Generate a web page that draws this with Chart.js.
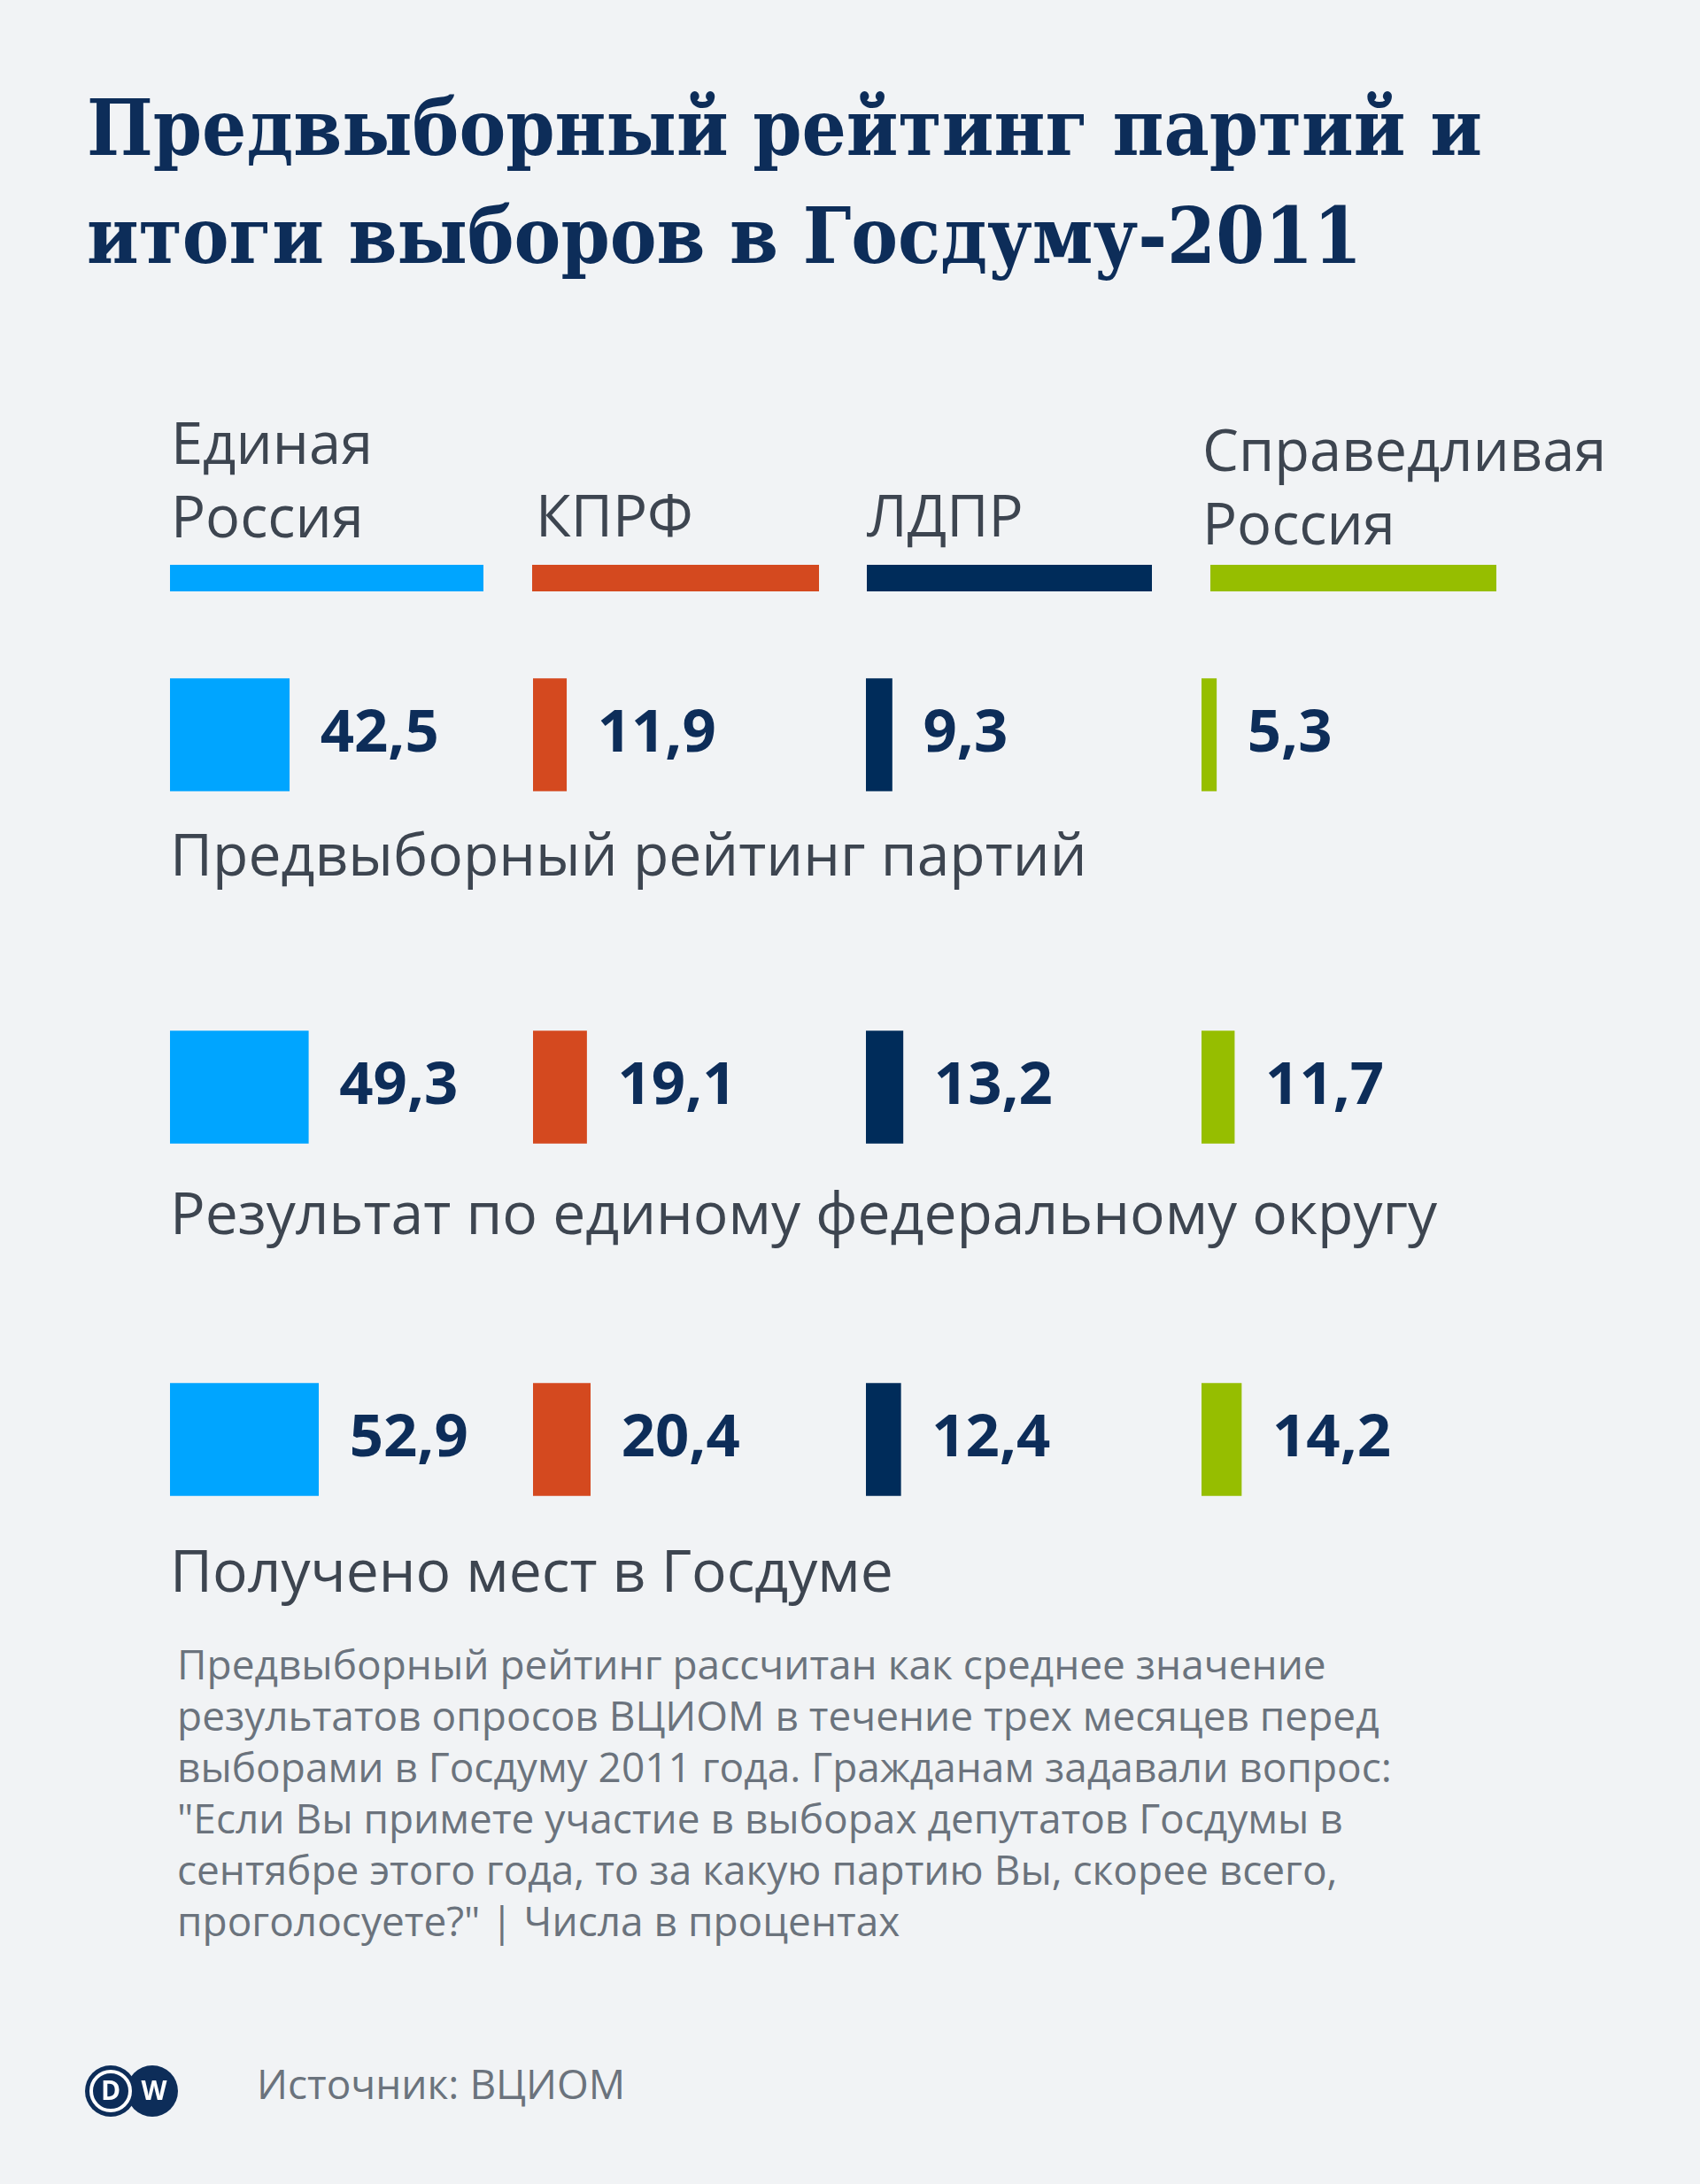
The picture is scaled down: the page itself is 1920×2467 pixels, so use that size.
<!DOCTYPE html>
<html lang="ru">
<head>
<meta charset="utf-8">
<title>Предвыборный рейтинг партий и итоги выборов в Госдуму-2011</title>
<script src="https://cdn.jsdelivr.net/npm/chart.js@4.4.1/dist/chart.umd.min.js"></script>
<style>
  html, body { margin: 0; padding: 0; }
  body { width: 1920px; height: 2467px; background: #f1f3f5; position: relative; overflow: hidden; }
  .txt { position: absolute; white-space: nowrap; margin: 0; }
  .title { font-family: "DejaVu Serif", serif; font-stretch: condensed; font-weight: bold; color: #0d2d59; }
  .sans { font-family: "Open Sans", sans-serif; }
  .swatch { position: absolute; height: 30px; }
  .col { position: absolute; top: 631px; width: 420px; height: 1194px; }
</style>
</head>
<body>
<div id="page"></div>
<canvas id="logo" width="140" height="120" style="position:absolute;left:80px;top:2300px;"></canvas>

<script>
// Data
const titleLines = ['Предвыборный рейтинг партий и', 'итоги выборов в Госдуму-2011'];
const parties = [['Единая', 'Россия'], ['КПРФ'], ['ЛДПР'], ['Справедливая', 'Россия']];
const partyColors = ['#00a5ff', '#d4491f', '#002c5a', '#96be00'];
const categories = ['Предвыборный рейтинг партий', 'Результат по единому федеральному округу', 'Получено мест в Госдуме'];
const unitedRussia = [42.5, 49.3, 52.9];
const kprf = [11.9, 19.1, 20.4];
const ldpr = [9.3, 13.2, 12.4];
const fairRussia = [5.3, 11.7, 14.2];
const footnote = [
  'Предвыборный рейтинг рассчитан как среднее значение',
  'результатов опросов ВЦИОМ в течение трех месяцев перед',
  'выборами в Госдуму 2011 года. Гражданам задавали вопрос:',
  '"Если Вы примете участие в выборах депутатов Госдумы в',
  'сентябре этого года, то за какую партию Вы, скорее всего,',
  'проголосуете?" | Числа в процентах'
];
const source = 'Источник: ВЦИОМ';

const seriesValues = [unitedRussia, kprf, ldpr, fairRussia];

// layout
const colX = [192, 602, 978, 1357];
const legendX = [193, 605, 979, 1358];
const swatchX = [[192, 546], [601, 925], [979, 1301], [1367, 1690]];
const legendBase = [[525, 608], [607], [607], [533, 617]];
const rowLabelBase = [989, 1394, 1798];
const pxPerUnit = 3.17;
const colW = 420;

const page = document.getElementById('page');

// put text so that its first baseline sits at y
function addText(lines, x, baseline, size, lineH, cls, color, asc, desc) {
  const el = document.createElement('div');
  el.className = 'txt ' + cls;
  el.style.fontSize = size + 'px';
  el.style.lineHeight = lineH + 'px';
  if (color) el.style.color = color;
  el.style.left = x + 'px';
  el.style.top = (baseline - ((lineH - (asc + desc) * size) / 2 + asc * size)) + 'px';
  el.innerHTML = lines.join('<br>');
  page.appendChild(el);
  return el;
}
const OS = [1.069, 0.293];
const DJ = [0.928, 0.236];

addText(titleLines, 98, 174, 88, 122, 'title', null, DJ[0], DJ[1]);

parties.forEach((p, i) => {
  addText(p, legendX[i], legendBase[i][0], 65, 83, 'sans', '#3d4550', OS[0], OS[1]);
  const sw = document.createElement('div');
  sw.className = 'swatch';
  sw.style.left = swatchX[i][0] + 'px';
  sw.style.top = '638px';
  sw.style.width = (swatchX[i][1] - swatchX[i][0]) + 'px';
  sw.style.background = partyColors[i];
  page.appendChild(sw);
});

categories.forEach((c, i) => {
  addText([c], 192, rowLabelBase[i], 66, 66, 'sans', '#3d4550', OS[0], OS[1]);
});

addText(footnote, 200, 1897, 46, 58, 'sans', '#6b737d', OS[0], OS[1]);
addText([source], 290, 2371, 46, 46, 'sans', '#6b737d', OS[0], OS[1]);

// value labels next to each bar
const valueLabels = {
  id: 'valueLabels',
  afterDatasetsDraw(chart) {
    const ctx = chart.ctx;
    const meta = chart.getDatasetMeta(0);
    ctx.save();
    ctx.font = 'bold 67px "Open Sans"';
    ctx.fillStyle = '#0d2d59';
    ctx.textBaseline = 'middle';
    ctx.textAlign = 'left';
    meta.data.forEach((bar, idx) => {
      const v = chart.data.datasets[0].data[idx];
      ctx.fillText(v.toFixed(1).replace('.', ','), bar.x + 35, bar.y);
    });
    ctx.restore();
  }
};

seriesValues.forEach((vals, i) => {
  const wrap = document.createElement('div');
  wrap.className = 'col';
  wrap.style.left = colX[i] + 'px';
  const cv = document.createElement('canvas');
  wrap.appendChild(cv);
  document.body.appendChild(wrap);

  new Chart(cv, {
    type: 'bar',
    data: {
      labels: categories,
      datasets: [{
        label: parties[i].join(' '),
        data: vals,
        backgroundColor: partyColors[i],
        borderWidth: 0,
        barThickness: 127
      }]
    },
    options: {
      indexAxis: 'y',
      responsive: true,
      maintainAspectRatio: false,
      animation: false,
      layout: { padding: 0 },
      plugins: { legend: { display: false }, tooltip: { enabled: false } },
      scales: {
        x: { display: false, min: 0, max: colW / pxPerUnit },
        y: { display: false, offset: true }
      }
    },
    plugins: [valueLabels]
  });
});

// DW logo
const lg = document.getElementById('logo').getContext('2d');
const navy = '#0d2d59';
lg.fillStyle = navy;
lg.beginPath(); lg.arc(92, 62, 29, 0, Math.PI * 2); lg.fill();
lg.beginPath(); lg.arc(45, 62, 29, 0, Math.PI * 2); lg.fill();
lg.strokeStyle = '#ffffff';
lg.lineWidth = 4;
lg.beginPath(); lg.arc(45, 62, 22, 0, Math.PI * 2); lg.stroke();
lg.fillStyle = '#ffffff';
lg.font = 'bold 30px "Open Sans"';
lg.textAlign = 'center';
lg.textBaseline = 'middle';
lg.fillText('D', 45, 63);
lg.fillText('W', 94, 63);
</script>
</body>
</html>
